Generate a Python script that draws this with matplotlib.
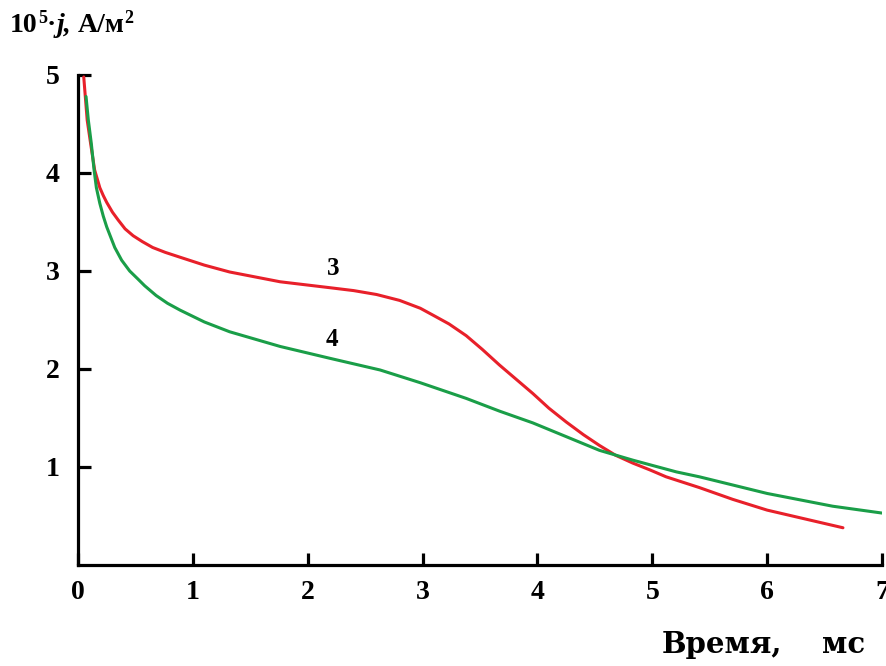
import matplotlib.pyplot as plt

# кривая 3 (красная)
t3 = [0.05, 0.08, 0.11, 0.145, 0.17, 0.19, 0.22, 0.25, 0.3, 0.35, 0.41, 0.48, 0.56,
      0.65, 0.76, 0.89, 1.1, 1.32, 1.76, 2.19, 2.4, 2.6, 2.8, 2.98, 3.09, 3.23, 3.38,
      3.52, 3.67, 3.81, 3.96, 4.1, 4.25, 4.4, 4.54, 4.68, 4.83, 4.98, 5.12, 5.41, 5.7,
      6.0, 6.33, 6.66]
j3 = [4.98, 4.54, 4.3, 4.03, 3.93, 3.85, 3.77, 3.7, 3.6, 3.52, 3.43, 3.36, 3.3,
      3.24, 3.19, 3.14, 3.06, 2.99, 2.89, 2.83, 2.80, 2.76, 2.70, 2.62, 2.55, 2.46, 2.34,
      2.2, 2.04, 1.9, 1.75, 1.6, 1.46, 1.33, 1.22, 1.12, 1.04, 0.97, 0.90, 0.79, 0.67,
      0.56, 0.47, 0.38]

# кривая 4 (зелёная)
t4 = [0.07, 0.09, 0.116, 0.14, 0.16, 0.19, 0.22, 0.25, 0.28, 0.32, 0.38, 0.45, 0.52,
      0.58, 0.68, 0.78, 0.89, 1.1, 1.32, 1.76, 2.19, 2.63, 2.98, 3.38, 3.67, 3.96,
      4.25, 4.54, 4.83, 5.21, 5.41, 6.0, 6.57, 7.0]
j4 = [4.78, 4.54, 4.3, 4.03, 3.85, 3.69, 3.56, 3.45, 3.36, 3.24, 3.11, 3.0, 2.92,
      2.85, 2.75, 2.67, 2.60, 2.48, 2.38, 2.23, 2.11, 1.99, 1.86, 1.70, 1.57, 1.45,
      1.31, 1.17, 1.07, 0.95, 0.9, 0.73, 0.6, 0.53]

xticks = [0, 1, 2, 3, 4, 5, 6, 7]
yticks = [1, 2, 3, 4, 5]

serif = ['Liberation Serif', 'DejaVu Serif']
W, H = 887, 666


def px_text(x, y, s, **kw):
    # текст по пиксельным координатам (y сверху)
    fig.text(x / W, 1 - y / H, s, va='baseline', fontweight='bold', **kw)


fig = plt.figure(figsize=(8.87, 6.66), dpi=100)
ax = fig.add_axes([78 / W, 1 - 565 / H, 804 / W, 490 / H])

ax.plot(t3, j3, color='#e8202a', lw=2.2, solid_joinstyle='round', solid_capstyle='round')
ax.plot(t4, j4, color='#1a9e48', lw=2.2, solid_joinstyle='round', solid_capstyle='round')

ax.text(2.22, 3.03, '3', fontsize=18, fontweight='bold', family=serif, ha='center', va='center')
ax.text(2.21, 2.30, '4', fontsize=18, fontweight='bold', family=serif, ha='center', va='center')

ax.set_xlim(0, 7)
ax.set_ylim(0, 5)
ax.spines['top'].set_visible(False)
ax.spines['right'].set_visible(False)
for s in ['left', 'bottom']:
    ax.spines[s].set_linewidth(2.3)

ax.set_xticks(xticks)
ax.set_yticks(yticks)
ax.tick_params(direction='in', length=9, width=2.3, labelsize=20)
ax.tick_params(axis='x', pad=11)
ax.tick_params(axis='y', pad=13)
for lab in ax.get_xticklabels() + ax.get_yticklabels():
    lab.set_family(serif)
    lab.set_fontweight('bold')

# подпись оси Y
px_text(10, 32, '10', fontsize=20, family=serif)
px_text(38, 23, '5', fontsize=13, family=serif)
px_text(47, 32, '·', fontsize=20, family=serif)
px_text(57, 32, 'j,', fontsize=20, family=serif, style='italic')
px_text(78, 32, 'А/м', fontsize=20, family=serif)
px_text(124, 23, '2', fontsize=13, family=serif)

# подпись оси X
px_text(662, 653, 'Время,', fontsize=21, family=['DejaVu Serif'])
px_text(822, 653, 'мс', fontsize=21, family=['DejaVu Serif'])

plt.savefig('out.png', dpi=100)
